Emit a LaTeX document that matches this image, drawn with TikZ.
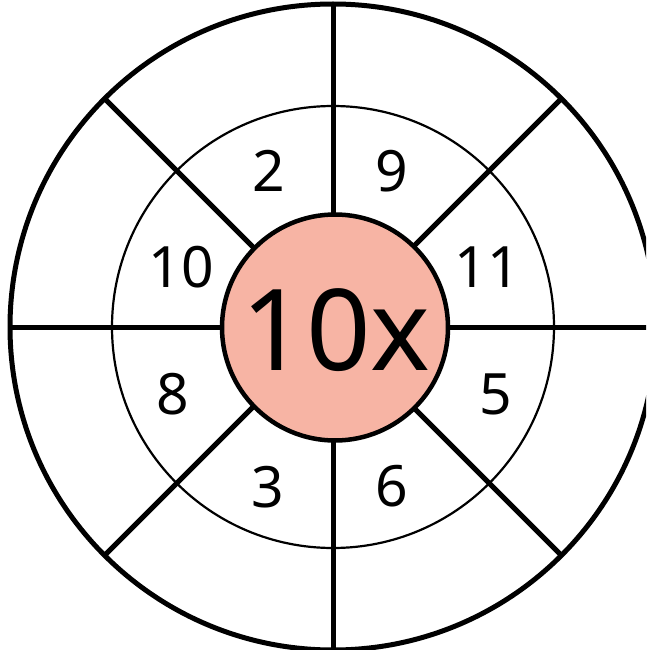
\documentclass[tikz,border=0pt]{standalone}
\usepackage{fontspec}
\setmainfont{Noto Sans}
\usetikzlibrary{calc}
\definecolor{salmon}{HTML}{F7B4A4}
\begin{document}
\begin{tikzpicture}[x=1pt,y=-1pt,
  spoke/.style={line width=5pt},
  ring/.style={line width=5pt},
  midring/.style={line width=2.2pt},
  num/.style={inner sep=0pt,font=\fontsize{57}{57}\selectfont},
  big/.style={inner sep=0pt,font=\fontsize{113}{113}\selectfont}]
\useasboundingbox (0,0) rectangle (646,650);
\clip (0,0) rectangle (646,650);
\coordinate (c) at (333,327);
\draw[ring] (c) circle[radius=323];
\draw[midring] (c) circle[radius=221];
\foreach \a in {0,45,...,315}{
  \draw[spoke] ($(c)+(\a:110)$) -- ($(c)+(\a:323)$);
}
\node[circle,draw,line width=4.5pt,fill=salmon,minimum size=226pt,inner sep=0pt] (core) at (335,327.5) {};
\node[big] (t10x) at (336,330) {10x};
\node[num] (n2) at (269,171) {2};
\node[num] (n9) at (392,171) {9};
\node[num] (n10) at (181,267) {10};
\node[num] (n11) at (487,267) {11};
\node[num] (n8) at (173,394) {8};
\node[num] (n5) at (496,394) {5};
\node[num] (n3) at (268,487) {3};
\node[num] (n6) at (392,486) {6};
\end{tikzpicture}
\end{document}
